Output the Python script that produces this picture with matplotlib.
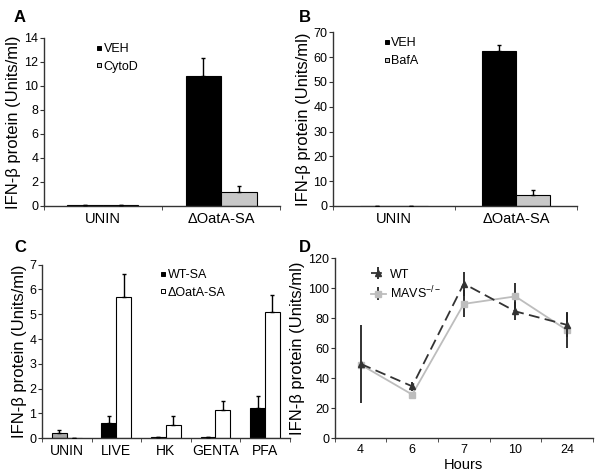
'''four-panel IFN-beta figure: bar charts A-C and a time course D'''
import matplotlib
matplotlib.use('Agg')
import matplotlib.pyplot as plt
from matplotlib.lines import Line2D
import numpy as np

plt.rcParams['font.family'] = ['Liberation Sans', 'DejaVu Sans']

YLABEL = 'IFN-\u03b2 protein (Units/ml)'

# panel A
a_groups = ['UNIN', '\u0394OatA-SA']
a_veh = [0.05, 10.8]
a_veh_err = [0.0, 1.5]
a_cytod = [0.05, 1.15]
a_cytod_err = [0.0, 0.5]

# panel B
b_groups = ['UNIN', '\u0394OatA-SA']
b_veh = [0.0, 62.5]
b_veh_err = [0.0, 2.2]
b_bafa = [0.0, 4.4]
b_bafa_err = [0.0, 2.2]

# panel C
c_groups = ['UNIN', 'LIVE', 'HK', 'GENTA', 'PFA']
c_wt = [0.2, 0.6, 0.04, 0.04, 1.22]
c_wt_err = [0.12, 0.3, 0.03, 0.02, 0.48]
c_oata = [0.0, 5.71, 0.55, 1.14, 5.08]
c_oata_err = [0.0, 0.9, 0.35, 0.36, 0.68]

# panel D
d_hours = ['4', '6', '7', '10', '24']
d_wt = [49.5, 34.5, 103, 84.5, 75.5]
d_wt_err = [26, 3, 8, 6, 8]
d_mavs = [49, 29, 89.5, 94.5, 72]
d_mavs_err = [1, 1, 9, 9, 12]

fig = plt.figure(figsize=(6.0, 4.72), dpi=100)


def style_axes(ax, n):
    for side in ['top', 'right']:
        ax.spines[side].set_visible(False)
    for side in ['left', 'bottom']:
        ax.spines[side].set_color('#333333')
        ax.spines[side].set_linewidth(1.0)
    ax.set_xlim(-0.5, n - 0.5)
    ax.set_xticks(range(n))
    ax.set_xticks(np.arange(-0.5, n, 1.0), minor=True)
    ax.tick_params(axis='x', which='major', length=0, pad=4)
    ax.tick_params(axis='x', which='minor', length=3, color='#333333')
    ax.tick_params(axis='y', length=3, color='#333333', labelsize=9, pad=1)
    ax.set_ylabel(YLABEL, fontsize=12, labelpad=2)


def bar_pair(ax, n, v1, e1, v2, e2, c1, c2, width):
    x = np.arange(n)
    ax.bar(x - width / 2, v1, width, color=c1, edgecolor='black',
           linewidth=0.8, zorder=2)
    ax.bar(x + width / 2, v2, width, color=c2, edgecolor='black',
           linewidth=0.8, zorder=2)
    ax.errorbar(x - width / 2, v1, yerr=[np.zeros(n), e1], fmt='none',
                ecolor='black', elinewidth=1, capsize=1.5, zorder=3)
    ax.errorbar(x + width / 2, v2, yerr=[np.zeros(n), e2], fmt='none',
                ecolor='black', elinewidth=1, capsize=1.5, zorder=3)


def square_legend(ax, labels, faces, loc):
    handles = [Line2D([], [], marker='s', linestyle='none', markersize=3.2,
                      markerfacecolor=f, markeredgecolor='black',
                      markeredgewidth=0.7) for f in faces]
    ax.legend(handles, labels, frameon=False, fontsize=9,
              handlelength=0.4, handletextpad=0.15, labelspacing=0.45,
              borderaxespad=0, borderpad=0, loc='upper left',
              bbox_to_anchor=loc)


# A
ax = fig.add_axes([0.073, 0.5636, 0.394, 0.356])
bar_pair(ax, 2, a_veh, a_veh_err, a_cytod, a_cytod_err,
         'black', '#c8c8c8', 0.3)
style_axes(ax, 2)
ax.set_ylim(0, 14)
ax.set_yticks(range(0, 15, 2))
ax.set_xticklabels(a_groups, fontsize=10.5)
square_legend(ax, ['VEH', 'CytoD'], ['black', '#c8c8c8'], (0.225, 0.97))

# B
ax = fig.add_axes([0.555, 0.5636, 0.407, 0.368])
bar_pair(ax, 2, b_veh, b_veh_err, b_bafa, b_bafa_err,
         'black', '#c8c8c8', 0.28)
style_axes(ax, 2)
ax.set_ylim(0, 70)
ax.set_yticks(range(0, 71, 10))
ax.set_xticklabels(b_groups, fontsize=10.5)
square_legend(ax, ['VEH', 'BafA'], ['black', '#c8c8c8'], (0.21, 0.97))

# C
ax = fig.add_axes([0.07, 0.0714, 0.413, 0.368])
bar_pair(ax, 5, c_wt, c_wt_err, c_oata, c_oata_err,
         'black', 'white', 0.3)
ax.patches[0].set_facecolor('#a8a8a8')
style_axes(ax, 5)
ax.set_ylim(0, 7)
ax.set_yticks(range(0, 8))
ax.set_xticklabels(c_groups, fontsize=10)
square_legend(ax, ['WT-SA', '\u0394OatA-SA'], ['black', 'white'],
              (0.48, 0.975))

# D
ax = fig.add_axes([0.558, 0.072, 0.43, 0.381])
x = np.arange(5)
ax.errorbar(x, d_mavs, yerr=d_mavs_err, color='#bdbdbd', linewidth=1.3,
            marker='s', markersize=5, ecolor='#222222', elinewidth=1.3,
            capsize=0, label=r'MAVS$^{\mathregular{-/-}}$', zorder=2)
ax.errorbar(x, d_wt, yerr=d_wt_err, color='#333333', linewidth=1.3,
            linestyle=(0, (6, 3)), marker='^', markersize=4,
            ecolor='#222222', elinewidth=1.3, capsize=0, label='WT',
            zorder=3)
style_axes(ax, 5)
ax.set_ylim(0, 120)
ax.set_yticks(range(0, 121, 20))
ax.set_xticklabels(d_hours, fontsize=9)
ax.set_xlabel('Hours', fontsize=10.5, labelpad=2)
h, l = ax.get_legend_handles_labels()
ax.legend(h[::-1], l[::-1], frameon=False, fontsize=9, handlelength=1.2,
          handletextpad=0.3, labelspacing=0.3, borderaxespad=0,
          loc='upper left', bbox_to_anchor=(0.12, 0.97))

for letter, px, py in [('A', 20, 18), ('B', 305, 18), ('C', 20, 247),
                       ('D', 305, 247)]:
    fig.text(px / 600, 1 - py / 472, letter, fontsize=12, fontweight='bold',
             ha='center', va='center')

fig.savefig('out.png', dpi=100)
